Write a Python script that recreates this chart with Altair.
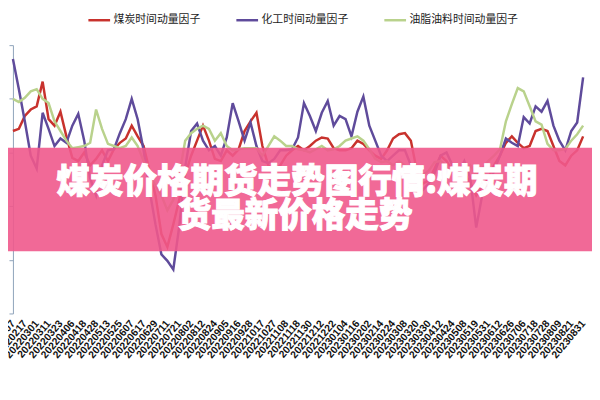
import altair as alt
import pandas as pd

dates = ["20220207", "20220217", "20220301", "20220311", "20220323", "20220406", "20220418",
         "20220428", "20220513", "20220525", "20220607", "20220617", "20220629", "20220711",
         "20220721", "20220802", "20220812", "20220824", "20220905", "20220916", "20220928",
         "20221017", "20221027", "20221108", "20221118", "20221130", "20221212", "20221222",
         "20230104", "20230116", "20230202", "20230214", "20230224", "20230308", "20230320",
         "20230330", "20230412", "20230424", "20230508", "20230519", "20230531", "20230612",
         "20230626", "20230706", "20230718", "20230728", "20230809", "20230821", "20230831"]

series_names = ["煤炭时间动量因子", "化工时间动量因子", "油脂油料时间动量因子"]
series_colors = ["#C8322D", "#5F4B9B", "#B9D28C"]

coal = [170, 172, 184, 190, 193, 216, 181, 175, 188, 165, 145, 142, 150, 138, 144, 152, 142, 153,
        159, 163, 175, 165, 156, 133, 110, 74, 62, 83, 106, 129, 147, 161, 175, 161, 144, 142,
        152, 147, 153, 170, 179, 187, 156, 138, 133, 138, 147, 152, 156, 152, 156, 161, 164, 163,
        154, 152, 152, 154, 161, 158, 152, 147, 144, 152, 163, 167, 168, 161, 133, 121, 124, 135,
        147, 142, 133, 126, 131, 122, 110, 119, 126, 138, 147, 159, 165, 159, 154, 156, 170, 172,
        170, 156, 142, 138, 147, 152, 165]

chem = [237, 209, 179, 147, 135, 187, 172, 156, 163, 159, 175, 186, 161, 126, 110, 138, 152, 153,
        168, 181, 200, 181, 152, 115, 83, 55, 49, 41, 81, 136, 170, 177, 161, 152, 156, 147,
        164, 196, 179, 161, 178, 156, 142, 140, 144, 152, 152, 153, 164, 196, 184, 170, 187, 198,
        175, 184, 181, 165, 188, 202, 175, 161, 147, 142, 147, 152, 152, 138, 119, 115, 121, 131,
        147, 150, 138, 131, 142, 126, 80, 110, 117, 133, 147, 163, 159, 156, 183, 177, 193, 188,
        198, 175, 161, 152, 170, 178, 220]

oil = [200, 197, 201, 207, 209, 200, 196, 179, 170, 161, 154, 155, 156, 159, 190, 172, 158, 156,
       154, 156, 164, 156, 142, 129, 119, 110, 96, 106, 129, 161, 168, 172, 175, 172, 161, 168,
       156, 152, 153, 154, 154, 154, 147, 156, 165, 161, 156, 156, 153, 152, 150, 153, 156, 152,
       153, 156, 161, 163, 165, 161, 153, 144, 141, 142, 138, 142, 138, 133, 135, 129, 133, 141,
       142, 138, 133, 135, 131, 138, 129, 135, 142, 147, 153, 179, 195, 210, 207, 193, 179, 176,
       158, 152, 152, 153, 161, 167, 175]

y_ticks = [0, 50, 100, 150, 200, 250]
banner_lines = ["煤炭价格期货走势图行情:煤炭期", "货最新价格走势"]

step = (len(dates) - 1) / (len(coal) - 1)
rows = []
for order, (name, vals) in enumerate(zip(series_names, [coal, chem, oil])):
    for i, v in enumerate(vals):
        rows.append({"t": i * step, "v": v, "series": name, "order": order})
df = pd.DataFrame(rows)

label_expr = "[" + ",".join("'%s'" % d for d in dates) + "][datum.value]"

W, H = 578, 272

lines = alt.Chart(df).mark_line(strokeWidth=2.5).encode(
    x=alt.X("t:Q", scale=alt.Scale(domain=[0, len(dates) - 1], nice=False, zero=False),
            axis=alt.Axis(values=list(range(len(dates))), labelExpr=label_expr, labelAngle=-50,
                          labelAlign="right", labelBaseline="middle", ticks=False, domain=False,
                          grid=False, labelFontSize=10.5, labelFontWeight="bold",
                          labelColor="#111111", labelFont="Liberation Sans", labelPadding=8,
                          labelOverlap=False, labelFlush=False, labelBound=False, title=None)),
    y=alt.Y("v:Q", scale=alt.Scale(domain=[0, 250], nice=False),
            axis=alt.Axis(values=y_ticks, grid=False, domainColor="#8EA3BA", tickColor="#8EA3BA",
                          tickSize=4, labelFontSize=10, labelColor="#333333", title=None)),
    color=alt.Color("series:N", scale=alt.Scale(domain=series_names, range=series_colors),
                    legend=alt.Legend(title=None, orient="none", legendX=75, legendY=-38,
                                      direction="horizontal", symbolType="stroke",
                                      symbolStrokeWidth=2.5, symbolSize=484, labelFontSize=11,
                                      labelFont="Noto Sans CJK SC", labelColor="#222222",
                                      labelOffset=2, columnPadding=31, labelLimit=0)),
    order=alt.Order("order:Q"),
)

bdata = alt.Data(values=[{"a": 1}])
banner = alt.Chart(bdata).mark_rect(color="#F0598C", opacity=0.9).encode(
    x=alt.value(-5), x2=alt.value(W + 9), y=alt.value(104), y2=alt.value(209)
)
text1 = alt.Chart(bdata).mark_text(text=banner_lines[0], font="Noto Sans CJK SC", fontWeight=900,
                                   fontSize=34, color="white", stroke="white", strokeWidth=1,
                                   align="center", baseline="middle").encode(
    x=alt.value(288), y=alt.value(140))
text2 = alt.Chart(bdata).mark_text(text=banner_lines[1], font="Noto Sans CJK SC", fontWeight=900,
                                   fontSize=34, color="white", stroke="white", strokeWidth=1,
                                   align="center", baseline="middle").encode(
    x=alt.value(286), y=alt.value(174))

chart = alt.layer(lines, banner, text1, text2).properties(
    width=W, height=H,
    autosize=alt.AutoSizeParams(type="none"),
    padding={"left": 5, "top": 35, "right": 9, "bottom": 80},
    background="white",
).configure_view(stroke=None)

chart.save("out.html", embed_options={"renderer": "svg", "actions": False})
